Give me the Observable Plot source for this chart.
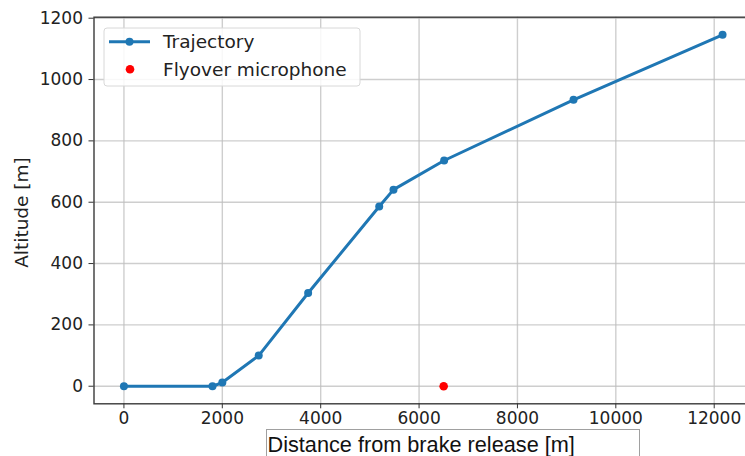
<!DOCTYPE html>
<html>
<head>
<meta charset="utf-8">
<script src="https://cdn.jsdelivr.net/npm/d3@7"></script>
<script src="https://cdn.jsdelivr.net/npm/@observablehq/plot@0.6"></script>
<style>
  html, body { margin: 0; padding: 0; background: #fff; }
  #chart { width: 745px; height: 456px; overflow: hidden; position: relative; }
</style>
</head>
<body>
<div id="chart"></div>
<script>
// Takeoff trajectory: distance from brake release vs altitude
const distance = [0, 1800, 2000, 2740, 3745, 5190, 5480, 6510, 9140, 12170];
const altitude = [0, 0, 12, 100, 304, 586, 641, 736, 934, 1146];

// Flyover microphone position
const micDistance = [6500];
const micAltitude = [0];

const xTicks = [0, 2000, 4000, 6000, 8000, 10000, 12000];
const yTicks = [0, 200, 400, 600, 800, 1000, 1200];
const seriesNames = ["Trajectory", "Flyover microphone"];
const xLabel = "Distance from brake release [m]";
const yLabel = "Altitude [m]";

const trajectory = distance.map((d, i) => ({x: d, y: altitude[i]}));
const microphone = micDistance.map((d, i) => ({x: d, y: micAltitude[i]}));

const blue = "#1f77b4";
const font = "DejaVu Sans, Noto Sans, sans-serif";

const chart = Plot.plot({
  width: 752,
  height: 456,
  marginLeft: 93.5,
  marginRight: 0,
  marginTop: 16.7,
  marginBottom: 52.7,
  style: {background: "#fff", fontFamily: font, maxWidth: "none", color: "#222"},
  x: {domain: [-608.5, 12778.5]},
  y: {domain: [-57.3, 1203.3]},
  marks: [
    Plot.gridX(xTicks, {stroke: "#bdbdbd", strokeOpacity: 0.75, strokeWidth: 1.4}),
    Plot.gridY(yTicks, {stroke: "#bdbdbd", strokeOpacity: 0.75, strokeWidth: 1.4}),
    Plot.frame({stroke: "#3a3a3a", strokeWidth: 1.4}),
    Plot.line(trajectory, {x: "x", y: "y", stroke: blue, strokeWidth: 3}),
    Plot.dot(trajectory, {x: "x", y: "y", r: 4, fill: blue}),
    Plot.dot(microphone, {x: "x", y: "y", r: 4.3, fill: "#ff0000"}),
    Plot.axisX({ticks: xTicks, tickSize: 5, tickPadding: 3, fontSize: 17, label: null,
      tickFormat: d => String(d), stroke: "#333"}),
    Plot.axisY({ticks: yTicks, tickSize: 5, tickPadding: 6, fontSize: 17, label: null,
      tickFormat: d => String(d), stroke: "#333"})
  ]
});

document.getElementById("chart").appendChild(chart);

const svg = d3.select(chart);

// y axis title
svg.append("text")
  .attr("transform", "translate(21.7,212.5) rotate(-90)")
  .attr("text-anchor", "middle")
  .attr("dominant-baseline", "central")
  .attr("font-family", font)
  .attr("font-size", 18.5)
  .attr("fill", "#222")
  .text(yLabel);

// x axis title in its box
const xl = svg.append("g");
xl.append("rect")
  .attr("x", 266.5).attr("y", 429.5).attr("width", 373).attr("height", 30)
  .attr("fill", "#fff").attr("stroke", "#a0a0a0").attr("stroke-width", 1);
xl.append("text")
  .attr("x", 267.5).attr("y", 452)
  .attr("text-anchor", "start")
  .attr("font-family", "Liberation Sans, Arial, sans-serif")
  .attr("font-size", 21.7)
  .attr("fill", "#111")
  .text(xLabel);

// legend
const lg = svg.append("g");
lg.append("rect")
  .attr("x", 104).attr("y", 28).attr("width", 256).attr("height", 58).attr("rx", 3)
  .attr("fill", "#fff").attr("fill-opacity", 0.85)
  .attr("stroke", "#d8d8d8").attr("stroke-width", 1);
lg.append("line")
  .attr("x1", 109).attr("x2", 150).attr("y1", 41.7).attr("y2", 41.7)
  .attr("stroke", blue).attr("stroke-width", 3);
lg.append("circle").attr("cx", 129.5).attr("cy", 41.7).attr("r", 4).attr("fill", blue);
lg.append("circle").attr("cx", 130).attr("cy", 69.3).attr("r", 4.3).attr("fill", "#ff0000");
lg.selectAll("text.lab").data(seriesNames).join("text")
  .attr("class", "lab")
  .attr("x", 163)
  .attr("y", (d, i) => 41.7 + i * 27.8)
  .attr("text-anchor", "start")
  .attr("dominant-baseline", "central")
  .attr("font-family", font)
  .attr("font-size", 18.5)
  .attr("fill", "#222")
  .text(d => d);
</script>
</body>
</html>
